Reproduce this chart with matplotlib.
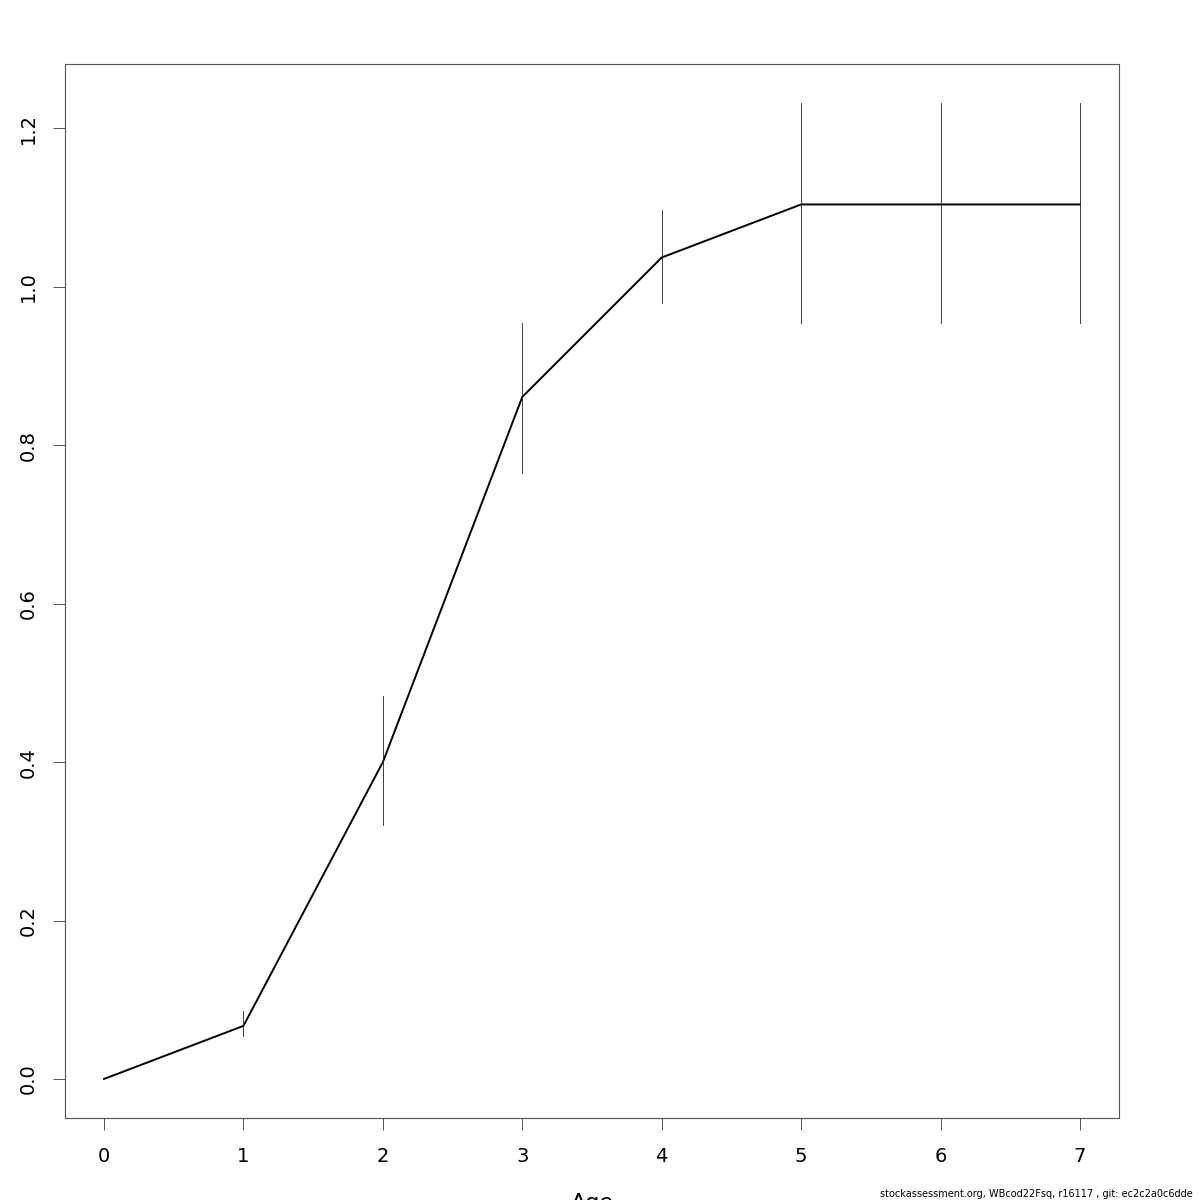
import matplotlib
matplotlib.use("Agg")
import matplotlib.pyplot as plt

ages = [0, 1, 2, 3, 4, 5, 6, 7]
values = [0.0, 0.067, 0.400, 0.861, 1.037, 1.104, 1.104, 1.104]
lower = [None, 0.054, 0.320, 0.765, 0.979, 0.954, 0.954, 0.954]
upper = [None, 0.086, 0.483, 0.954, 1.097, 1.232, 1.232, 1.232]
xticks = [0, 1, 2, 3, 4, 5, 6, 7]
yticks = [0.0, 0.2, 0.4, 0.6, 0.8, 1.0, 1.2]
yticklabels = ["0.0", "0.2", "0.4", "0.6", "0.8", "1.0", "1.2"]
footnote = "stockassessment.org, WBcod22Fsq, r16117 , git: ec2c2a0c6dde"

fig = plt.figure(figsize=(12, 12), dpi=100)
ax = fig.add_axes([65/1200, 1 - 1118/1200, 1054/1200, 1054/1200])

ax.plot(ages, values, color="black", lw=1.4)
for a, lo, hi in zip(ages, lower, upper):
    if lo is not None:
        ax.plot([a, a], [lo, hi], color="#222222", lw=0.6)

ax.set_xlim(-0.28, 7.28)
ax.set_ylim(-0.0493, 1.2813)
ax.set_xticks(xticks)
ax.set_xticklabels([str(t) for t in xticks], fontsize=14)
ax.set_yticks(yticks)
ax.set_yticklabels(yticklabels, fontsize=14, rotation=90, va="center")
ax.tick_params(axis="both", length=8.6, width=0.7, color="#555555", pad=11)
ax.tick_params(axis="x", pad=12.5)
for s in ax.spines.values():
    s.set_color("#555555")
    s.set_linewidth(0.8)

ax.set_xlabel("Age", fontsize=16, labelpad=19.5)
fig.text(1193/1200, 1/1200, footnote, fontsize=7, ha="right", va="bottom")

fig.savefig("out.png", dpi=100)
